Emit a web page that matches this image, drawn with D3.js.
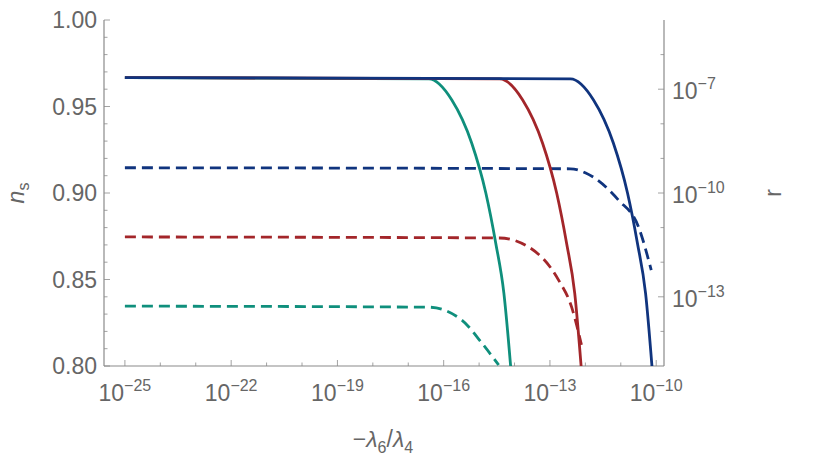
<!DOCTYPE html>
<html>
<head>
<meta charset="UTF-8" />
<script src="https://d3js.org/d3.v7.min.js"></script>
<style>body{margin:0;background:#fff}</style>
</head>
<body>
<div id="chart"></div>
<script>
// log10(-lambda6/lambda4) and n_s (solid, left axis)
var nsTealX = [-25, -16.42, -15.77, -15.21, -14.81, -14.53, -14.30, -14.11];
var nsTealY = [0.9667, 0.9660, 0.9538, 0.9289, 0.900, 0.871, 0.842, 0.800];
var nsRedX = [-25, -14.42, -13.77, -13.21, -12.81, -12.53, -12.30, -12.12];
var nsRedY = [0.9667, 0.9660, 0.9538, 0.9289, 0.900, 0.871, 0.842, 0.800];
var nsBlueX = [-25, -12.42, -11.77, -11.21, -10.81, -10.53, -10.30, -10.12];
var nsBlueY = [0.9667, 0.9660, 0.9538, 0.9289, 0.900, 0.871, 0.842, 0.800];
// log10 r (dashed, right axis)
var rTealX = [-25, -16.42, -15.49, -14.92, -14.45];
var rTealY = [-13.27, -13.30, -13.67, -14.34, -14.97];
var rRedX = [-25, -14.42, -13.60, -12.76, -12.39, -12.11];
var rRedY = [-11.27, -11.30, -11.56, -12.51, -13.29, -14.39];
var rBlueX = [-25, -12.42, -11.99, -11.07, -10.50, -10.14];
var rBlueY = [-9.27, -9.30, -9.42, -10.20, -10.98, -12.23];

var xTicks = [-25, -22, -19, -16, -13, -10];
var nsTicks = [0.80, 0.85, 0.90, 0.95, 1.00];
var rTicks = [-13, -10, -7];

var colors = {teal: "#0f8f7c", red: "#a3262a", blue: "#10347e"};

var width = 830, height = 471;
var L = 104, R = 664, T = 20, B = 366;
var svg = d3.select("#chart").append("svg").attr("width", width).attr("height", height)
  .style("font-family", "'Liberation Sans', Arial, sans-serif");

var x = d3.scaleLinear().domain([-25.59, -9.78]).range([L, R]);
var yL = d3.scaleLinear().domain([0.80, 1.00]).range([B, T]);
var yR = d3.scaleLinear().domain([-15, -5]).range([B, T]);

var axisColor = "#8a8a8a", textColor = "#666";
var ax = svg.append("g").attr("stroke", axisColor).attr("stroke-width", 1.2);
ax.append("line").attr("x1", L).attr("x2", L).attr("y1", T).attr("y2", B);
ax.append("line").attr("x1", R).attr("x2", R).attr("y1", T).attr("y2", B);
ax.append("line").attr("x1", L).attr("x2", R).attr("y1", B).attr("y2", B);

// left ticks
d3.range(0.80, 1.0001, 0.01).forEach(function (v, i) {
  var major = i % 5 === 0;
  ax.append("line").attr("x1", L).attr("x2", L + (major ? 6 : 3.5))
    .attr("y1", yL(v)).attr("y2", yL(v)).attr("stroke-width", 0.8);
});
nsTicks.forEach(function (v) {
  svg.append("text").attr("x", L - 7).attr("y", yL(v) + 8).attr("text-anchor", "end")
    .attr("font-size", 23).attr("fill", textColor).text(v.toFixed(2));
});
// bottom ticks
d3.range(-25, -9).forEach(function (v) {
  var major = (v + 25) % 3 === 0;
  ax.append("line").attr("x1", x(v)).attr("x2", x(v)).attr("y1", B).attr("y2", B - (major ? 6 : 3.5))
    .attr("stroke-width", 0.8);
});
xTicks.forEach(function (v) {
  var t = svg.append("text").attr("x", x(v)).attr("y", B + 35).attr("text-anchor", "middle")
    .attr("fill", textColor).attr("font-size", 23);
  t.append("tspan").text("10");
  t.append("tspan").attr("dy", -10).attr("font-size", 16).text("\u2212" + (-v));
});
// right ticks
d3.range(-14, -5).forEach(function (v) {
  var major = (v + 13) % 3 === 0;
  ax.append("line").attr("x1", R).attr("x2", R - (major ? 6 : 3.5))
    .attr("y1", yR(v)).attr("y2", yR(v)).attr("stroke-width", 0.8);
});
rTicks.forEach(function (v) {
  var t = svg.append("text").attr("x", R + 8).attr("y", yR(v) + 10)
    .attr("fill", textColor).attr("font-size", 23);
  t.append("tspan").text("10");
  t.append("tspan").attr("dy", -10).attr("font-size", 16).text("\u2212" + (-v));
});

// axis labels
var yl = svg.append("text").attr("transform", "translate(24,193) rotate(-90)")
  .attr("text-anchor", "middle").attr("fill", textColor).attr("font-size", 23);
yl.append("tspan").attr("font-style", "italic").text("n");
yl.append("tspan").attr("dy", 5).attr("font-size", 16).text("s");
svg.append("text").attr("transform", "translate(781,193) rotate(-90)")
  .attr("text-anchor", "middle").attr("fill", textColor).attr("font-size", 23).text("r");
var xl = svg.append("text").attr("x", 383).attr("y", 447).attr("text-anchor", "middle")
  .attr("fill", textColor).attr("font-size", 23);
xl.append("tspan").text("\u2212");
xl.append("tspan").attr("font-style", "italic").text("\u03bb");
xl.append("tspan").attr("dy", 6).attr("font-size", 16).text("6");
xl.append("tspan").attr("dy", -6).text("/");
xl.append("tspan").attr("font-style", "italic").text("\u03bb");
xl.append("tspan").attr("dy", 6).attr("font-size", 16).text("4");

var clip = svg.append("clipPath").attr("id", "pc").append("rect")
  .attr("x", L).attr("y", T).attr("width", R - L).attr("height", B - T);
var g = svg.append("g").attr("clip-path", "url(#pc)");

function draw(xs, ys, yScale, color, dashed) {
  var pts = xs.map(function (d, i) { return [d, ys[i]]; });
  var line = d3.line().x(function (d) { return x(d[0]); }).y(function (d) { return yScale(d[1]); })
    .curve(d3.curveMonotoneX);
  g.append("path").attr("d", line(pts)).attr("fill", "none").attr("stroke", color)
    .attr("stroke-width", 2.8).attr("stroke-dasharray", dashed ? "11,6" : null);
}
draw(rTealX, rTealY, yR, colors.teal, true);
draw(rRedX, rRedY, yR, colors.red, true);
draw(rBlueX, rBlueY, yR, colors.blue, true);
draw(nsTealX, nsTealY, yL, colors.teal, false);
draw(nsRedX, nsRedY, yL, colors.red, false);
draw(nsBlueX, nsBlueY, yL, colors.blue, false);
</script>
</body>
</html>
